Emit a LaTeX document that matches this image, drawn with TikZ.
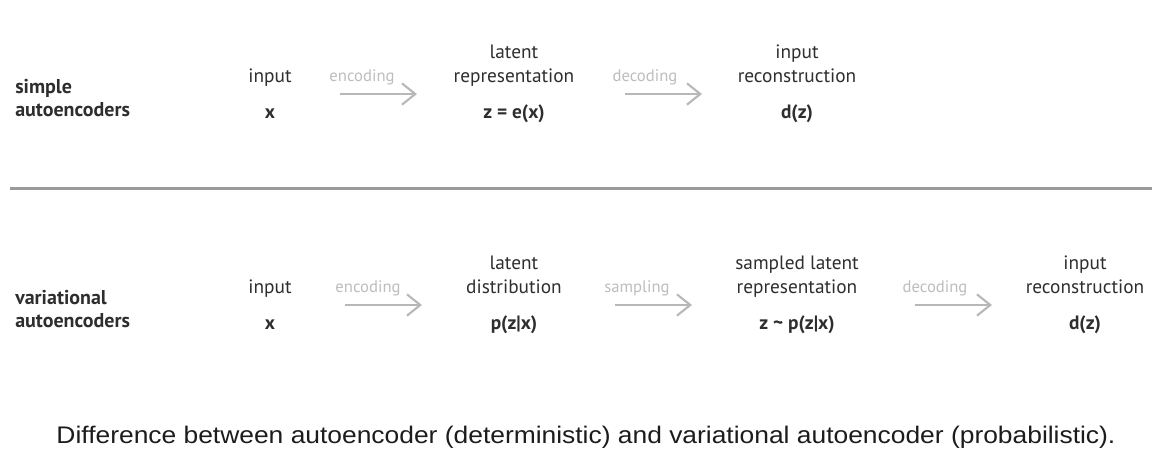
\documentclass[tikz,border=0pt]{standalone}
\usepackage{fontspec}
\setmainfont{PT Sans}
\newfontfamily\capfont[FakeStretch=1.1]{Liberation Sans}
\usetikzlibrary{arrows.meta,positioning}
\definecolor{labelgray}{HTML}{2E2E2E}
\definecolor{lightlabel}{HTML}{BDBDBD}
\definecolor{arrowgray}{HTML}{B8B8B8}
\definecolor{rulegray}{HTML}{9A9A9A}
\definecolor{captext}{HTML}{1C1C1C}
\tikzset{
	stage/.style   = {align=center, anchor=base, inner sep=0pt, text=labelgray,
		font=\fontsize{14.5}{18}\selectfont},
	rowname/.style = {align=left, anchor=base west, inner sep=0pt, text=labelgray,
		font=\bfseries\fontsize{15}{17}\selectfont},
	steplabel/.style = {anchor=base, inner sep=0pt, text=lightlabel,
		font=\fontsize{12.5}{14}\selectfont},
	flow/.style    = {draw=arrowgray, line width=1.6pt,
		-{Straight Barb[length=10pt,width=16pt,line width=1.6pt]}}
}

\begin{document}
\begin{tikzpicture}[x=0.75pt, y=-0.75pt]
\useasboundingbox (0,0) rectangle (1175,454);

% simple autoencoders, top row (nodes sit on their last line)
\node[rowname] (sname) at (15,116) {simple\\autoencoders};
\node[stage] (sin) at (270,118) {input\\[9pt]\textbf{x}};
\node[stage] (slat) at (514,118) {latent\\representation\\[9pt]\textbf{z = e(x)}};
\node[stage] (srec) at (797,118) {input\\reconstruction\\[9pt]\textbf{d(z)}};

\coordinate (se1) at (340,94);
\coordinate (se2) at (417,94);
\coordinate (sd1) at (625,94);
\coordinate (sd2) at (702,94);
\draw[flow] (se1) -- (se2);
\draw[flow] (sd1) -- (sd2);
\node[steplabel] (senc) at (362,81) {encoding};
\node[steplabel] (sdec) at (645,81) {decoding};

% separating rule
\coordinate (r1) at (10,188);
\coordinate (r2) at (1152,188);
\draw[rulegray, line width=2.25pt] (r1) -- (r2);

% variational autoencoders, bottom row
\node[rowname] (vname) at (15,327) {variational\\autoencoders};
\node[stage] (vin) at (270,329) {input\\[9pt]\textbf{x}};
\node[stage] (vdist) at (514,329) {latent\\distribution\\[9pt]\textbf{p(z|x)}};
\node[stage] (vsamp) at (797,329) {sampled latent\\representation\\[9pt]\textbf{z \textasciitilde\ p(z|x)}};
\node[stage] (vrec) at (1085,329) {input\\reconstruction\\[9pt]\textbf{d(z)}};

\coordinate (ve1) at (345,305);
\coordinate (ve2) at (422,305);
\coordinate (vs1) at (615,305);
\coordinate (vs2) at (692,305);
\coordinate (vd1) at (915,305);
\coordinate (vd2) at (992,305);
\draw[flow] (ve1) -- (ve2);
\draw[flow] (vs1) -- (vs2);
\draw[flow] (vd1) -- (vd2);
\node[steplabel] (venc) at (368,292) {encoding};
\node[steplabel] (vsmp) at (637,292) {sampling};
\node[steplabel] (vdec) at (935,292) {decoding};

% caption
\node[anchor=base, inner sep=0pt, text=captext, font=\capfont\fontsize{18}{20}\selectfont] (cap) at (586,443)
	{Difference between autoencoder (deterministic) and variational autoencoder (probabilistic).};

\end{tikzpicture}
\end{document}
